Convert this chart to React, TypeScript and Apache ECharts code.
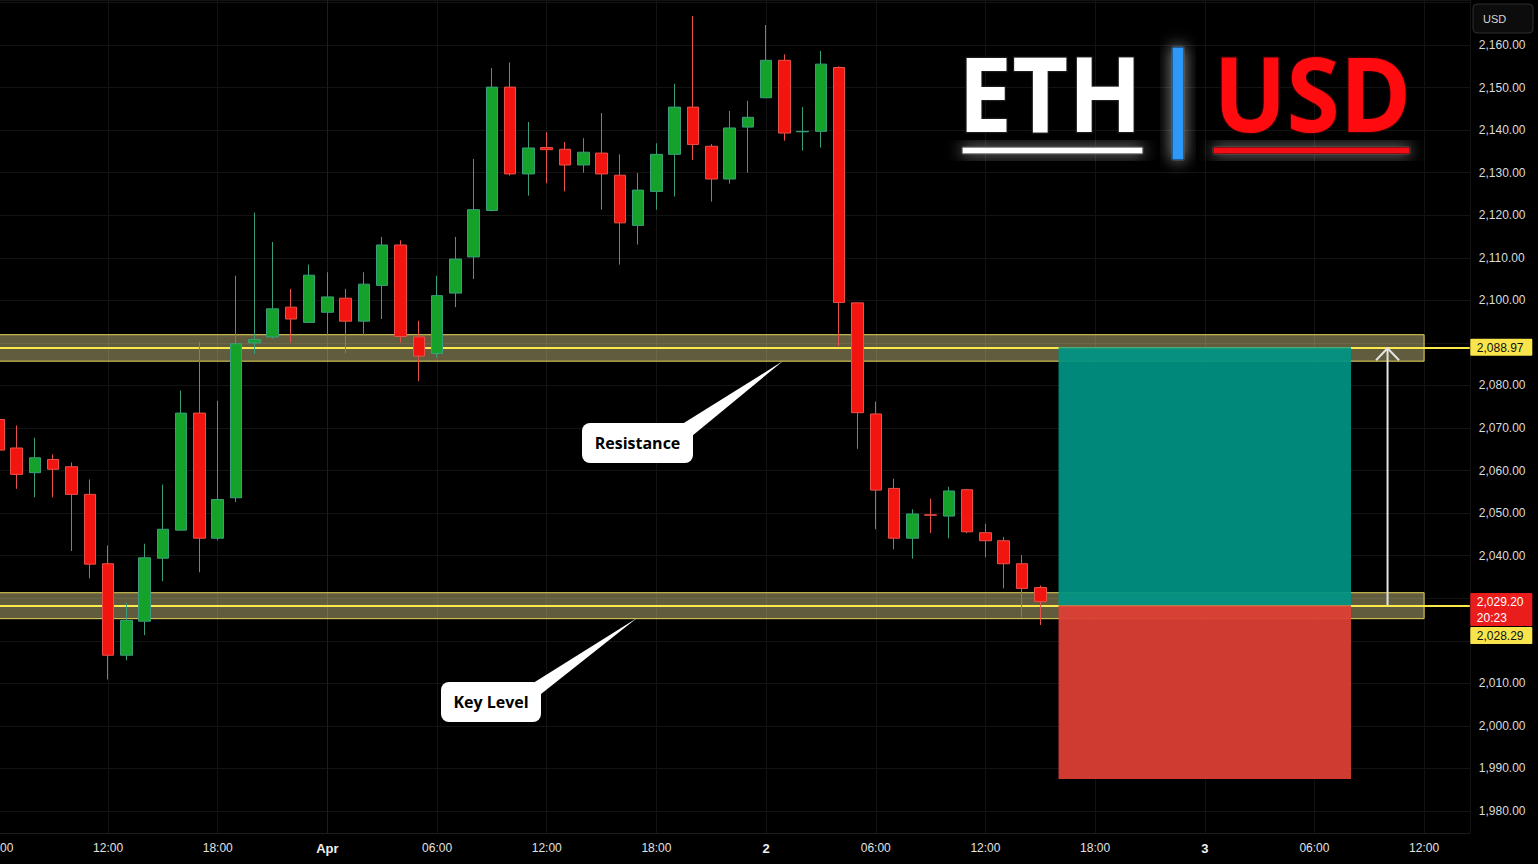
import React, { useEffect, useRef } from 'react';
import * as echarts from 'echarts';

// ---------- data ----------
// hour offsets relative to Apr 1 00:00 (one candle per hour)
const CANDLE_HOURS = [
  -18, -17, -16, -15, -14, -13, -12, -11, -10, -9, -8, -7, -6, -5, -4, -3, -2, -1,
  0, 1, 2, 3, 4, 5, 6, 7, 8, 9, 10, 11, 12, 13, 14, 15, 16, 17, 18, 19, 20, 21, 22, 23,
  24, 25, 26, 27, 28, 29, 30, 31, 32, 33, 34, 35, 36, 37, 38, 39,
];
const OPEN = [
  2072.0, 2065.3, 2059.5, 2062.6, 2060.9, 2054.4, 2038.1, 2016.6, 2024.6, 2039.4, 2046.0, 2073.5, 2044.1, 2053.6, 2090.0, 2091.4, 2098.4, 2094.8,
  2097.2, 2100.5, 2095.1, 2103.5, 2113.0, 2091.4, 2087.5, 2101.7, 2110.2, 2121.1, 2150.1, 2129.7, 2135.9, 2135.5, 2131.8, 2134.6, 2129.4, 2117.6, 2125.6, 2134.3, 2145.4, 2136.2, 2128.5, 2140.7,
  2147.6, 2156.4, 2139.6, 2139.7, 2154.7, 2099.4, 2073.3, 2055.8, 2044.1, 2049.6, 2049.3, 2055.5, 2045.4, 2043.5, 2038.1, 2032.5,
];
const CLOSE = [
  2064.8, 2059.1, 2063.0, 2060.3, 2054.4, 2038.0, 2016.6, 2024.8, 2039.5, 2046.2, 2073.5, 2044.1, 2053.2, 2089.8, 2090.8, 2098.0, 2095.6, 2105.9,
  2100.8, 2095.1, 2103.8, 2113.0, 2091.5, 2086.9, 2101.1, 2109.7, 2121.3, 2150.1, 2129.7, 2135.8, 2135.4, 2131.8, 2134.8, 2129.7, 2118.2, 2125.9, 2134.3, 2145.4, 2136.6, 2128.5, 2140.5, 2143.0,
  2156.4, 2139.3, 2139.7, 2155.5, 2099.5, 2073.6, 2055.4, 2044.1, 2049.8, 2049.5, 2055.2, 2045.6, 2043.5, 2038.1, 2032.3, 2029.2,
];
const LOW = [
  2063.0, 2055.7, 2053.7, 2053.7, 2041.1, 2034.7, 2010.9, 2015.4, 2021.3, 2034.0, 2045.9, 2036.1, 2043.6, 2052.6, 2087.4, 2091.0, 2090.1, 2094.7,
  2091.9, 2087.6, 2091.7, 2095.6, 2090.1, 2081.0, 2086.6, 2098.4, 2105.0, 2120.9, 2129.3, 2124.6, 2127.5, 2125.6, 2130.0, 2121.3, 2108.4, 2113.1, 2121.3, 2124.4, 2133.0, 2123.2, 2127.4, 2130.0,
  2147.5, 2137.5, 2135.2, 2135.9, 2089.3, 2065.1, 2046.2, 2041.5, 2039.3, 2045.3, 2044.1, 2045.3, 2039.6, 2032.3, 2025.5, 2023.7,
];
const HIGH = [
  2074.0, 2070.6, 2067.7, 2063.8, 2061.9, 2057.9, 2042.4, 2028.9, 2042.8, 2056.7, 2078.8, 2090.2, 2076.4, 2105.8, 2120.6, 2113.7, 2102.7, 2108.4,
  2106.6, 2102.7, 2106.6, 2114.9, 2114.1, 2095.2, 2105.8, 2114.9, 2133.2, 2154.6, 2155.9, 2141.9, 2139.5, 2137.2, 2138.1, 2144.0, 2134.3, 2129.9, 2136.9, 2150.9, 2166.8, 2136.7, 2144.5, 2146.9,
  2164.7, 2157.8, 2145.4, 2158.6, 2155.0, 2099.5, 2076.2, 2058.1, 2050.9, 2053.4, 2056.2, 2055.7, 2047.5, 2044.4, 2040.1, 2033.0,
];

// x axis: visible hours range and tick labels
const X_MIN_HOUR = -18.5;
const X_MAX_HOUR = 62.5;
const X_TICKS: Array<[number, string]> = [
  [-18, '06:00'], [-12, '12:00'], [-6, '18:00'], [0, 'Apr'], [6, '06:00'], [12, '12:00'], [18, '18:00'],
  [24, '2'], [30, '06:00'], [36, '12:00'], [42, '18:00'], [48, '3'], [54, '06:00'], [60, '12:00'],
];
const DAY_LABELS = ['Apr', '2', '3'];

// y axis
const Y_MIN = 1974.83;
const Y_MAX = 2170.57;
const Y_LABEL_MIN = 1980;
const Y_LABEL_MAX = 2160;
const Y_STEP = 10;
const Y_LABELS_UNDER_TAGS = [2090, 2030, 2020];

// drawings
const RESISTANCE = { low: 2085.7, mid: 2088.97, high: 2091.92 };
const KEY_LEVEL = { low: 2025.19, mid: 2028.29, high: 2031.29 };
const ZONE_END_HOUR = 60;
const POSITION = { startHour: 40, endHour: 56, target: 2088.97, entry: 2028.29, stop: 1987.5 };
const ARROW_HOUR = 58;
const LAST_PRICE = 2029.2;
const COUNTDOWN = '20:23';

// ---------- style ----------
const FONT = "'Liberation Sans', Arial, sans-serif";
const TITLE_FONT = "bold 104px 'Open Sans', 'Noto Sans', sans-serif";
const UP = '#14a22a';
const UP_BORDER = '#3a9e7a';
const DOWN = '#f2150f';
const DOWN_BORDER = '#e8524a';
const GRID_LINE = '#131313';
const TAG_YELLOW = '#f9e54b';

const fmtPrice = (v: number) =>
  v.toLocaleString('en-US', { minimumFractionDigits: 2, maximumFractionDigits: 2 });

export default function App() {
  const ref = useRef<HTMLDivElement>(null);

  useEffect(() => {
    if (!ref.current) return;
    const chart = echarts.init(ref.current, null, { renderer: 'svg' });

    const categories: string[] = [];
    for (let h = X_MIN_HOUR + 0.5; h <= X_MAX_HOUR - 0.5; h++) categories.push(String(h));
    const candleData = CANDLE_HOURS.map((_, i) => [OPEN[i], CLOSE[i], LOW[i], HIGH[i]]);

    const option: any = {
      animation: false,
      backgroundColor: '#000000',
      grid: { left: -10.74, right: 68.2, top: 0, bottom: 31, outerBoundsMode: 'none', containLabel: false },
      xAxis: [
        {
          type: 'category',
          data: categories,
          position: 'top',
          boundaryGap: true,
          show: false,
        },
        {
          type: 'value',
          position: 'bottom',
          min: X_MIN_HOUR,
          max: X_MAX_HOUR,
          splitNumber: 14,
          minInterval: 6,
          maxInterval: 6,
          axisLine: { show: true, lineStyle: { color: '#1d1d1d', width: 1 } },
          axisTick: { show: false },
          splitLine: { show: true, lineStyle: { color: GRID_LINE, width: 1 } },
          axisLabel: {
            color: '#e2e2e2',
            fontSize: 12,
            fontFamily: FONT,
            margin: 9,
            showMinLabel: true,
            showMaxLabel: true,
            formatter: (v: number) => {
              const t = X_TICKS.find(([h]) => Math.abs(h - v) < 1e-6);
              if (!t) return '';
              return DAY_LABELS.includes(t[1]) ? `{d|${t[1]}}` : t[1];
            },
            rich: {
              d: { fontWeight: 'bold', fontSize: 13, color: '#f0f0f0', fontFamily: FONT },
            },
          },
        },
      ],
      yAxis: {
        type: 'value',
        position: 'right',
        min: Y_MIN,
        max: Y_MAX,
        splitNumber: 20,
        minInterval: Y_STEP,
        maxInterval: Y_STEP,
        axisLine: { show: true, lineStyle: { color: '#1d1d1d', width: 1 } },
        axisTick: { show: false },
        splitLine: { show: true, lineStyle: { color: GRID_LINE, width: 1 } },
        axisLabel: {
          color: '#dcdcdc',
          fontSize: 12,
          fontFamily: FONT,
          margin: 9,
          formatter: (v: number) => {
            const r = Math.round(v);
            if (Math.abs(v - r) > 1e-6 || r % Y_STEP !== 0) return '';
            if (r < Y_LABEL_MIN || r > Y_LABEL_MAX) return '';
            if (Y_LABELS_UNDER_TAGS.includes(r)) return '';
            return fmtPrice(r);
          },
        },
      },
      series: [
        {
          name: 'zones',
          type: 'line',
          xAxisIndex: 1,
          yAxisIndex: 0,
          data: [],
          silent: true,
          markArea: {
            silent: true,
            z: 1,
            itemStyle: { color: 'rgba(255,242,160,0.38)', borderColor: '#e6d65a', borderWidth: 1 },
            data: [
              [
                { xAxis: X_MIN_HOUR, yAxis: RESISTANCE.high },
                { xAxis: ZONE_END_HOUR, yAxis: RESISTANCE.low },
              ],
              [
                { xAxis: X_MIN_HOUR, yAxis: KEY_LEVEL.high },
                { xAxis: ZONE_END_HOUR, yAxis: KEY_LEVEL.low },
              ],
            ],
          },
          markLine: {
            silent: true,
            z: 1,
            symbol: 'none',
            label: { show: false },
            lineStyle: { color: '#fbe84a', width: 2, type: 'solid' },
            data: [{ yAxis: RESISTANCE.mid }, { yAxis: KEY_LEVEL.mid }],
          },
        },
        {
          name: 'position',
          type: 'line',
          xAxisIndex: 1,
          yAxisIndex: 0,
          data: [],
          silent: true,
          markArea: {
            silent: true,
            z: 1.5,
            data: [
              [
                { xAxis: POSITION.startHour, yAxis: POSITION.target, itemStyle: { color: 'rgba(0,147,132,0.93)' } },
                { xAxis: POSITION.endHour, yAxis: POSITION.entry },
              ],
              [
                { xAxis: POSITION.startHour, yAxis: POSITION.entry, itemStyle: { color: 'rgba(224,64,53,0.93)' } },
                { xAxis: POSITION.endHour, yAxis: POSITION.stop },
              ],
            ],
          },
        },
        {
          name: 'ETHUSD',
          type: 'candlestick',
          xAxisIndex: 0,
          yAxisIndex: 0,
          z: 3,
          barWidth: 12,
          data: candleData,
          itemStyle: {
            color: UP,
            color0: DOWN,
            borderColor: UP_BORDER,
            borderColor0: DOWN_BORDER,
            borderWidth: 1,
          },
        },
      ],
    };

    chart.setOption(option);

    const px = (h: number) => chart.convertToPixel({ xAxisIndex: 1 }, h) as number;
    const py = (v: number) => chart.convertToPixel({ yAxisIndex: 0 }, v) as number;

    const axisX = px(X_MAX_HOUR);
    const resY = py(RESISTANCE.mid);
    const lastY = py(LAST_PRICE);
    const arrowX = px(ARROW_HOUR);
    const arrowTop = py(POSITION.target);
    const arrowBottom = py(POSITION.entry);
    const redTop = lastY - 8.5;
    const redH = 33;

    const tagText = (x: number, y: number, text: string, fill: string) => ({
      type: 'text',
      z: 20,
      x,
      y,
      style: { text, fill, font: `12px ${FONT}`, align: 'left', verticalAlign: 'middle' },
    });

    const glow = 'rgba(255,255,255,0.6)';

    const graphic: any[] = [
      // --- title ---
      {
        type: 'text', z: 20, x: 958, y: 92, scaleX: 0.93,
        style: {
          text: 'ETH', font: TITLE_FONT,
          fill: '#ffffff', stroke: '#1c1c1c', lineWidth: 2.5,
          align: 'left', verticalAlign: 'middle',
          shadowBlur: 26, shadowColor: glow,
        },
      },
      {
        type: 'text', z: 20, x: 1213.5, y: 92, scaleX: 0.93,
        style: {
          text: 'USD', font: TITLE_FONT,
          fill: '#ff0a0f', stroke: '#2a0000', lineWidth: 2.5,
          align: 'left', verticalAlign: 'middle',
          shadowBlur: 26, shadowColor: glow,
        },
      },
      {
        type: 'rect', z: 20, shape: { x: 962, y: 147, width: 181, height: 7 },
        style: { fill: '#ffffff', stroke: '#222222', lineWidth: 1, shadowBlur: 16, shadowColor: glow },
      },
      {
        type: 'rect', z: 20, shape: { x: 1213, y: 147, width: 197, height: 7 },
        style: { fill: '#f20f12', stroke: '#2a0000', lineWidth: 1, shadowBlur: 16, shadowColor: glow },
      },
      {
        type: 'rect', z: 20, shape: { x: 1172, y: 47, width: 12, height: 113 },
        style: { fill: '#2f98f7', stroke: '#0a2540', lineWidth: 1, shadowBlur: 16, shadowColor: glow },
      },
      // --- currency box ---
      {
        type: 'rect', z: 20, shape: { x: 1473, y: 4, width: 60, height: 29, r: 4 },
        style: { fill: '#0c0c0c', stroke: '#2e2e2e', lineWidth: 1 },
      },
      {
        type: 'text', z: 21, x: 1483, y: 18.5,
        style: { text: 'USD', fill: '#d4d4d4', font: `11px ${FONT}`, align: 'left', verticalAlign: 'middle' },
      },
      // --- price tags ---
      {
        type: 'rect', z: 20, shape: { x: axisX + 0.5, y: resY - 8.5, width: 62, height: 17, r: 1 },
        style: { fill: TAG_YELLOW },
      },
      tagText(axisX + 7, resY + 0.5, fmtPrice(RESISTANCE.mid), '#111111'),
      {
        type: 'rect', z: 20, shape: { x: axisX + 0.5, y: redTop, width: 62, height: redH, r: 1 },
        style: { fill: '#ea1c1c' },
      },
      tagText(axisX + 7, lastY + 0.5, fmtPrice(LAST_PRICE), '#ffffff'),
      tagText(axisX + 7, lastY + 16.5, COUNTDOWN, '#ffffff'),
      {
        type: 'rect', z: 20, shape: { x: axisX + 0.5, y: redTop + redH + 1, width: 62, height: 17, r: 1 },
        style: { fill: TAG_YELLOW },
      },
      tagText(axisX + 7, redTop + redH + 10, fmtPrice(KEY_LEVEL.mid), '#111111'),
      // --- arrow ---
      {
        type: 'line', z: 20,
        shape: { x1: arrowX, y1: arrowBottom, x2: arrowX, y2: arrowTop + 1 },
        style: { stroke: '#e4e4e4', lineWidth: 2 },
      },
      {
        type: 'polyline', z: 20,
        shape: { points: [[arrowX - 11.5, arrowTop + 13], [arrowX, arrowTop + 1], [arrowX + 11.5, arrowTop + 13]] },
        style: { stroke: '#e4e4e4', lineWidth: 2, fill: 'none' },
      },
      // --- callouts ---
      {
        type: 'polygon', z: 20,
        shape: { points: [[679, 426], [783, 361], [692, 436]] },
        style: { fill: '#ffffff' },
      },
      {
        type: 'rect', z: 20, shape: { x: 582, y: 423, width: 111, height: 40, r: 8 },
        style: { fill: '#ffffff' },
      },
      {
        type: 'text', z: 21, x: 637.5, y: 443,
        style: {
          text: 'Resistance', fill: '#000000', font: "bold 16px 'Open Sans', 'Noto Sans', sans-serif",
          align: 'center', verticalAlign: 'middle',
        },
      },
      {
        type: 'polygon', z: 20,
        shape: { points: [[530, 685], [637, 618], [541, 694]] },
        style: { fill: '#ffffff' },
      },
      {
        type: 'rect', z: 20, shape: { x: 441, y: 682, width: 100, height: 40, r: 8 },
        style: { fill: '#ffffff' },
      },
      {
        type: 'text', z: 21, x: 491, y: 702,
        style: {
          text: 'Key Level', fill: '#000000', font: "bold 16px 'Open Sans', 'Noto Sans', sans-serif",
          align: 'center', verticalAlign: 'middle',
        },
      },
    ];

    chart.setOption({ graphic });

    return () => chart.dispose();
  }, []);

  return (
    <div
      ref={ref}
      style={{ position: 'fixed', left: 0, top: 0, width: 1538, height: 864, background: '#000' }}
    />
  );
}
